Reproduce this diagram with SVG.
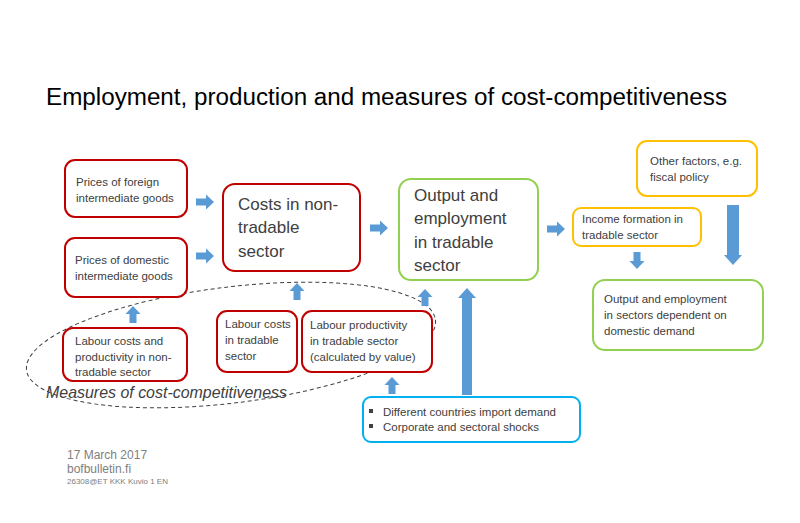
<svg xmlns="http://www.w3.org/2000/svg" width="800" height="523" viewBox="0 0 800 523">
<style>
.t{font-family:"Liberation Sans",Arial,sans-serif;fill:#404040}
.s{font-size:11.5px}
.b{font-size:17px}
.red{fill:#fff;stroke:#C00000;stroke-width:2}
.grn{fill:#fff;stroke:#92D050;stroke-width:2}
.yel{fill:#fff;stroke:#FFC000;stroke-width:2}
.cyn{fill:#fff;stroke:#00B0F0;stroke-width:2}
.arr{fill:#5B9BD5}
.ft{font-family:"Liberation Sans",Arial,sans-serif;fill:#808080}
</style>
<defs>
<path id="ra" d="M0,-3.5H10V-7.5L18,0L10,7.5V3.5H0Z"/>
<path id="ua" d="M-3.5,0V-9H-7.5L0,-17L7.5,-9H3.5V0Z"/>
<path id="da" d="M-3.5,0V9H-7.5L0,17L7.5,9H3.5V0Z"/>
</defs>
<rect width="800" height="523" fill="#fff"/>
<text x="46" y="105" font-family="Liberation Sans,Arial,sans-serif" font-size="23" fill="#000" textLength="681" lengthAdjust="spacingAndGlyphs">Employment, production and measures of cost-competitiveness</text>

<g id="measures">
<ellipse cx="231" cy="345" rx="206" ry="58" transform="rotate(-7 231 345)" fill="none" stroke="#404040" stroke-width="1" stroke-dasharray="4,3"/>
<text class="t" x="46" y="398" font-size="17" font-style="italic" textLength="241" lengthAdjust="spacingAndGlyphs">Measures of cost-competitiveness</text>
</g>

<g id="foreign">
<rect class="red" x="65" y="160" width="122" height="57" rx="10"/>
<text class="t s" x="76" y="186">Prices of foreign</text>
<text class="t s" x="76" y="202">intermediate goods</text>
</g>
<g id="domestic">
<rect class="red" x="65" y="238" width="122" height="59" rx="10"/>
<text class="t s" x="75" y="264">Prices of domestic</text>
<text class="t s" x="75" y="280">intermediate goods</text>
</g>
<g id="costs">
<rect class="red" x="223" y="184" width="137" height="87" rx="12"/>
<text class="t b" x="238" y="210">Costs in non-</text>
<text class="t b" x="238" y="233">tradable</text>
<text class="t b" x="238" y="257">sector</text>
</g>
<g id="output">
<rect class="grn" x="399" y="179" width="139" height="101" rx="12"/>
<text class="t b" x="414" y="201">Output and</text>
<text class="t b" x="414" y="224">employment</text>
<text class="t b" x="414" y="248">in tradable</text>
<text class="t b" x="414" y="271">sector</text>
</g>
<g id="other">
<rect class="yel" x="637" y="141" width="120" height="55" rx="10"/>
<text class="t s" x="650" y="165">Other factors, e.g.</text>
<text class="t s" x="650" y="181">fiscal policy</text>
</g>
<g id="income">
<rect class="yel" x="573" y="208" width="128" height="38" rx="8"/>
<text class="t s" x="582" y="223">Income formation in</text>
<text class="t s" x="582" y="239">tradable sector</text>
</g>
<g id="domdemand">
<rect class="grn" x="593" y="280" width="170" height="70" rx="12"/>
<text class="t s" x="604" y="303">Output and employment</text>
<text class="t s" x="604" y="319">in sectors dependent on</text>
<text class="t s" x="604" y="335">domestic demand</text>
</g>
<g id="labournon">
<rect class="red" x="63" y="328" width="124" height="53" rx="10"/>
<text class="t s" x="75" y="345">Labour costs and</text>
<text class="t s" x="75" y="361">productivity in non-</text>
<text class="t s" x="75" y="376">tradable sector</text>
</g>
<g id="labourcosts">
<rect class="red" x="217" y="311" width="80" height="61" rx="10"/>
<text class="t s" x="225" y="328">Labour costs</text>
<text class="t s" x="225" y="344">in tradable</text>
<text class="t s" x="225" y="360">sector</text>
</g>
<g id="labourprod">
<rect class="red" x="302" y="311" width="130" height="61" rx="10"/>
<text class="t s" x="310" y="329">Labour productivity</text>
<text class="t s" x="310" y="345">in tradable sector</text>
<text class="t s" x="310" y="361">(calculated by value)</text>
</g>
<g id="shocks">
<rect class="cyn" x="363" y="397" width="217" height="45" rx="8"/>
<rect x="369" y="409" width="4" height="4" fill="#404040"/>
<rect x="369" y="424" width="4" height="4" fill="#404040"/>
<text class="t s" x="383" y="416">Different countries import demand</text>
<text class="t s" x="383" y="431">Corporate and sectoral shocks</text>
</g>

<g id="connectors" class="arr">
<use href="#ra" x="196" y="202"/>
<use href="#ra" x="196" y="256"/>
<use href="#ra" x="370" y="228"/>
<use href="#ra" x="547" y="229"/>
<use href="#ua" x="133" y="323"/>
<use href="#ua" x="297" y="300"/>
<use href="#ua" x="392" y="394"/>
<use href="#ua" x="425" y="306"/>
<path d="M462,395V298H458L467,288L476,298H472V395Z"/>
<use href="#da" x="637" y="252"/>
<path d="M727,205H739V255H742L733,265L724,255H727Z"/>
</g>

<g id="footer">
<text class="ft" x="67" y="459" font-size="12">17 March 2017</text>
<text class="ft" x="67" y="473" font-size="12">bofbulletin.fi</text>
<text class="ft" x="67" y="484" font-size="8">26308@ET KKK Kuvio 1 EN</text>
</g>
</svg>
